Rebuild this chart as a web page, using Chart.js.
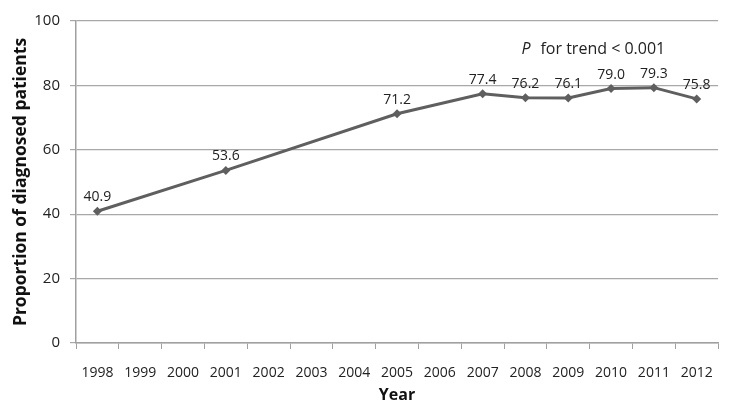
<!DOCTYPE html>
<html><head><meta charset="utf-8">
<script src="https://cdn.jsdelivr.net/npm/chart.js@4"></script>
<style>html,body{margin:0;padding:0;background:#fff}#w{width:729px;height:407px}</style>
</head><body><div id="w"><canvas id="c"></canvas></div>
<script>
const years = ["1998","1999","2000","2001","2002","2003","2004","2005","2006","2007","2008","2009","2010","2011","2012"];
const proportions = [40.9, null, null, 53.6, null, null, null, 71.2, null, 77.4, 76.2, 76.1, 79.0, 79.3, 75.8];
const yTicks = [0, 20, 40, 60, 80, 100];
const annotationText = "for trend < 0.001";

const FONT = "'Open Sans', 'Noto Sans', sans-serif";

const labelPlugin = {
  id: 'vlabels',
  afterDatasetsDraw(chart) {
    const ctx = chart.ctx;
    const meta = chart.getDatasetMeta(0);
    ctx.save();
    ctx.font = "14px " + FONT;
    ctx.fillStyle = "#222";
    ctx.textAlign = "center";
    ctx.textBaseline = "middle";
    meta.data.forEach((pt, i) => {
      const v = proportions[i];
      if (v === null) return;
      ctx.fillText(v.toFixed(1), pt.x, pt.y - 14);
    });
    // P for trend annotation
    const xs = chart.scales.x, ys = chart.scales.y;
    const x0 = xs.getPixelForValue(10) - 4;
    const y0 = ys.getPixelForValue(91.3);
    ctx.textAlign = "left";
    ctx.font = "italic 16px " + FONT;
    ctx.fillText("P", x0, y0);
    ctx.font = "16px " + FONT;
    ctx.fillText(annotationText, x0 + 19, y0);
    ctx.restore();
  }
};

new Chart(document.getElementById('c'), {
  type: 'line',
  data: {
    labels: years,
    datasets: [{
      data: proportions,
      borderColor: '#5f5f5f',
      backgroundColor: '#5f5f5f',
      borderWidth: 3,
      pointStyle: 'rectRot',
      pointRadius: 4.5,
      pointBorderWidth: 0,
      spanGaps: true,
      tension: 0
    }]
  },
  options: {
    responsive: true,
    maintainAspectRatio: false,
    animation: false,
    layout: { padding: { top: 21, right: 9, left: 0, bottom: 0 } },
    plugins: { legend: { display: false }, tooltip: { enabled: false } },
    scales: {
      x: {
        offset: true,
        grid: { offset: true, drawOnChartArea: false, drawTicks: true, tickLength: 6, color: '#a0a0a0' },
        border: { color: '#a0a0a0', width: 1.5 },
        ticks: { color: '#222', font: { size: 14, family: FONT }, padding: 16, maxRotation: 0, autoSkip: false },
        title: { display: true, text: 'Year', color: '#111', font: { size: 16, weight: 'bold', family: FONT }, padding: { top: 0, bottom: 2 } },
        afterFit(s) { s.height = 64; }
      },
      y: {
        min: 0, max: 100,
        afterBuildTicks(s) { s.ticks = yTicks.map(v => ({ value: v })); },
        grid: { color: '#a8a8a8', lineWidth: 1.2, tickLength: 6 },
        border: { color: '#a0a0a0', width: 1.5 },
        ticks: { color: '#222', font: { size: 15, family: FONT }, padding: 10 },
        title: { display: true, text: 'Proportion of diagnosed patients', color: '#111', font: { size: 17.5, weight: 'bold', family: FONT }, padding: { top: 11, bottom: 0 } },
        afterFit(s) { s.width = 76; }
      }
    }
  },
  plugins: [labelPlugin]
});
</script></body></html>
